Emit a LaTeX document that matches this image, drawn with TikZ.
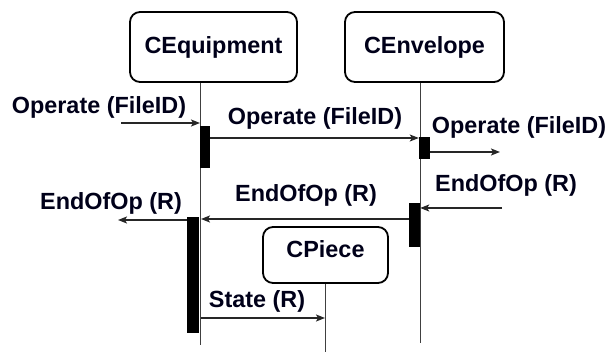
\documentclass[tikz,border=0pt]{standalone}
\usepackage{fontspec}
\setmainfont{Liberation Sans}
\usetikzlibrary{arrows.meta}
\begin{document}
\begin{tikzpicture}[x=1pt,y=-1pt,
  txt/.style={font=\fontsize{23.4}{28}\selectfont\bfseries, text=black!90!blue},
  obj/.style={txt, draw, line width=1.8pt, rounded corners=10pt, inner sep=0pt},
  lbl/.style={txt, inner sep=0pt},
  life/.style={line width=1pt, draw=black!75},
  bar/.style={fill=black, draw=none, inner sep=0pt},
  msg/.style={line width=1.3pt, draw=black!85, -{Stealth[length=9pt,width=7pt,inset=2pt]}}]
\useasboundingbox (0,0) rectangle (616,352);

% objects
\node[obj, minimum width=167pt, minimum height=70pt] (eq) at (213.5,47) {CEquipment};
\node[obj, minimum width=159pt, minimum height=70pt] (env) at (424.5,47) {CEnvelope};
\node[obj, minimum width=125pt, minimum height=56pt, text depth=12pt] (pc) at (325.5,255) {CPiece};

% lifelines
\coordinate (eqbot) at (200,345);
\coordinate (envbot) at (420,343);
\coordinate (pcbot) at (325,352);
\draw[life] (eq.south -| eqbot) -- (eqbot);
\draw[life] (env.south -| envbot) -- (envbot);
\draw[life] (pc.south -| pcbot) -- (pcbot);

% activation bars
\node[bar, minimum width=10pt, minimum height=42pt] (b1) at (205,147) {};
\node[bar, minimum width=11pt, minimum height=22pt] (b2) at (424.5,148) {};
\node[bar, minimum width=12pt, minimum height=116pt] (b3) at (193,275) {};
\node[bar, minimum width=11pt, minimum height=44pt] (b4) at (414.5,225) {};

% messages
\coordinate (s1) at (121,123);
\coordinate (t1) at (200,123);
\draw[msg] (s1) -- (t1);
\draw[msg] ([yshift=9pt]b1.east) -- ([yshift=9pt]b1.east -| b2.west);
\coordinate (o1) at (500,152);
\draw[msg] (b2.east |- o1) -- (o1);
\coordinate (s2) at (502,208);
\draw[msg] (s2) -- (s2 -| b4.east);
\coordinate (m2t) at (201,219);
\draw[msg] (b4.west |- m2t) -- (m2t);
\coordinate (o2) at (118,220);
\draw[msg] (b3.west |- o2) -- (o2);
\coordinate (st) at (325,318);
\draw[msg] ([xshift=2pt]b3.east |- st) -- (st);

% labels
\node[lbl] (l1) at (99,107) {Operate (FileID)};
\node[lbl] (l2) at (315,118) {Operate (FileID)};
\node[lbl] (l3) at (519,127) {Operate (FileID)};
\node[lbl] (l4) at (506,185) {EndOfOp (R)};
\node[lbl] (l5) at (306,195) {EndOfOp (R)};
\node[lbl] (l6) at (111,203) {EndOfOp (R)};
\node[lbl] (l7) at (257,301) {State (R)};
\end{tikzpicture}
\end{document}
